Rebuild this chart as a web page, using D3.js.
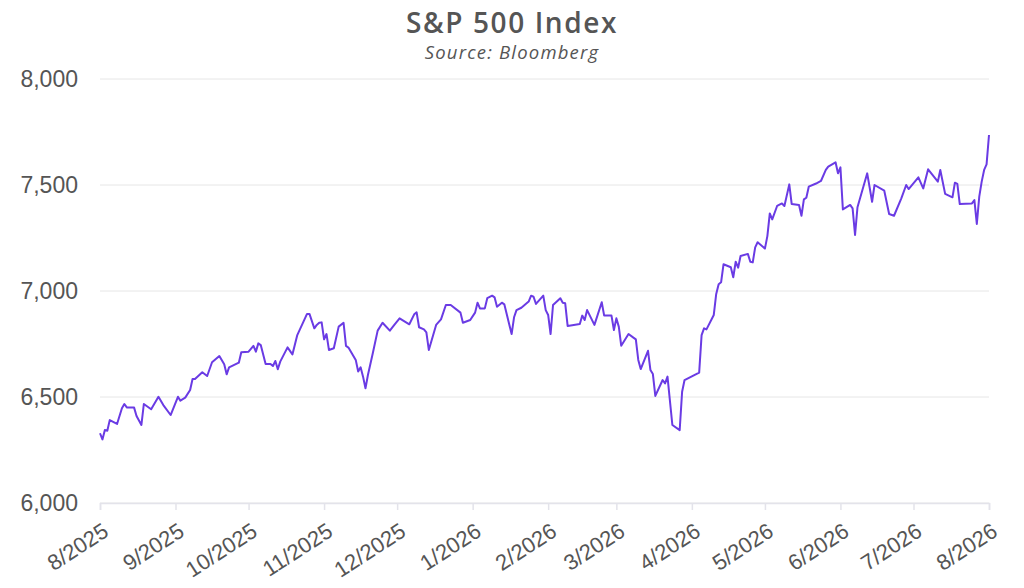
<!DOCTYPE html>
<html>
<head>
<meta charset="utf-8">
<script src="https://cdn.jsdelivr.net/npm/d3@7"></script>
<style>
    body { margin: 0; background: #fff; }
    svg { font-family: "Open Sans", "Noto Sans", sans-serif; }
</style>
</head>
<body>
<script>
var dates = [
    "2025-08-01", "2025-08-02", "2025-08-03", "2025-08-04", "2025-08-05", "2025-08-08", "2025-08-10", "2025-08-11",
    "2025-08-12", "2025-08-15", "2025-08-16", "2025-08-18", "2025-08-19", "2025-08-22", "2025-08-25", "2025-08-27",
    "2025-08-30", "2025-09-02", "2025-09-03", "2025-09-05", "2025-09-07", "2025-09-08", "2025-09-09", "2025-09-12",
    "2025-09-14", "2025-09-16", "2025-09-19", "2025-09-21", "2025-09-22", "2025-09-23", "2025-09-27", "2025-09-28",
    "2025-10-01", "2025-10-03", "2025-10-04", "2025-10-05", "2025-10-06", "2025-10-08", "2025-10-10", "2025-10-11",
    "2025-10-12", "2025-10-13", "2025-10-14", "2025-10-17", "2025-10-19", "2025-10-21", "2025-10-25", "2025-10-26",
    "2025-10-28", "2025-10-29", "2025-10-30", "2025-10-31", "2025-11-01", "2025-11-02", "2025-11-03", "2025-11-05",
    "2025-11-07", "2025-11-09", "2025-11-10", "2025-11-11", "2025-11-14", "2025-11-15", "2025-11-16", "2025-11-17",
    "2025-11-18", "2025-11-19", "2025-11-21", "2025-11-23", "2025-11-25", "2025-11-28", "2025-11-30", "2025-12-02",
    "2025-12-06", "2025-12-08", "2025-12-09", "2025-12-10", "2025-12-12", "2025-12-13", "2025-12-14", "2025-12-17",
    "2025-12-19", "2025-12-21", "2025-12-23", "2025-12-27", "2025-12-28", "2025-12-31", "2026-01-02", "2026-01-03",
    "2026-01-04", "2026-01-06", "2026-01-07", "2026-01-09", "2026-01-10", "2026-01-11", "2026-01-13", "2026-01-14",
    "2026-01-17", "2026-01-18", "2026-01-19", "2026-01-21", "2026-01-24", "2026-01-25", "2026-01-26", "2026-01-27",
    "2026-01-30", "2026-01-31", "2026-02-01", "2026-02-02", "2026-02-03", "2026-02-06", "2026-02-07", "2026-02-08",
    "2026-02-09", "2026-02-14", "2026-02-15", "2026-02-16", "2026-02-17", "2026-02-20", "2026-02-23", "2026-02-24",
    "2026-02-27", "2026-02-28", "2026-03-01", "2026-03-02", "2026-03-03", "2026-03-06", "2026-03-08", "2026-03-09",
    "2026-03-10", "2026-03-11", "2026-03-14", "2026-03-15", "2026-03-16", "2026-03-17", "2026-03-20", "2026-03-21",
    "2026-03-22", "2026-03-24", "2026-03-27", "2026-03-28", "2026-03-29", "2026-04-04", "2026-04-05", "2026-04-06",
    "2026-04-07", "2026-04-10", "2026-04-11", "2026-04-12", "2026-04-13", "2026-04-14", "2026-04-17", "2026-04-18",
    "2026-04-19", "2026-04-20", "2026-04-21", "2026-04-24", "2026-04-25", "2026-04-26", "2026-04-27", "2026-04-28",
    "2026-05-01", "2026-05-02", "2026-05-03", "2026-05-04", "2026-05-06", "2026-05-08", "2026-05-09", "2026-05-11",
    "2026-05-12", "2026-05-15", "2026-05-16", "2026-05-17", "2026-05-18", "2026-05-19", "2026-05-22", "2026-05-24",
    "2026-05-26", "2026-05-27", "2026-05-30", "2026-05-31", "2026-06-01", "2026-06-02", "2026-06-05", "2026-06-06",
    "2026-06-07", "2026-06-08", "2026-06-12", "2026-06-14", "2026-06-15", "2026-06-19", "2026-06-21", "2026-06-23",
    "2026-06-26", "2026-06-28", "2026-06-29", "2026-07-03", "2026-07-05", "2026-07-07", "2026-07-11", "2026-07-12",
    "2026-07-14", "2026-07-17", "2026-07-18", "2026-07-19", "2026-07-20", "2026-07-25", "2026-07-26", "2026-07-27",
    "2026-07-28", "2026-07-29", "2026-07-30", "2026-07-31", "2026-08-01"
]

var closes = [
    6329, 6300, 6344, 6341, 6391, 6373, 6447, 6467,
    6451, 6450, 6410, 6368, 6467, 6442, 6501, 6462,
    6415, 6501, 6483, 6497, 6533, 6585, 6585, 6617,
    6599, 6664, 6693, 6654, 6607, 6640, 6662, 6711,
    6714, 6741, 6714, 6753, 6745, 6656, 6656, 6646,
    6670, 6631, 6667, 6734, 6701, 6792, 6892, 6892,
    6824, 6840, 6850, 6852, 6772, 6797, 6722, 6730,
    6832, 6850, 6741, 6733, 6675, 6620, 6640, 6596,
    6541, 6604, 6706, 6813, 6850, 6813, 6843, 6871,
    6843, 6890, 6899, 6829, 6819, 6805, 6722, 6840,
    6866, 6934, 6934, 6898, 6850, 6863, 6898, 6945,
    6918, 6918, 6966, 6978, 6970, 6926, 6945, 6937,
    6797, 6876, 6910, 6921, 6950, 6978, 6973, 6939,
    6978, 6910, 6887, 6797, 6934, 6966, 6945, 6942,
    6835, 6844, 6884, 6863, 6910, 6840, 6947, 6884,
    6884, 6816, 6871, 6832, 6742, 6797, 6780, 6772,
    6675, 6632, 6718, 6627, 6608, 6505, 6580, 6564,
    6596, 6368, 6344, 6525, 6580, 6615, 6792, 6824,
    6819, 6887, 6986, 7032, 7041, 7126, 7112, 7065,
    7138, 7110, 7165, 7175, 7138, 7135, 7206, 7230,
    7200, 7259, 7366, 7338, 7401, 7413, 7401, 7503,
    7410, 7406, 7355, 7432, 7440, 7492, 7507, 7519,
    7571, 7587, 7607, 7555, 7583, 7385, 7406, 7390,
    7264, 7395, 7555, 7421, 7500, 7473, 7363, 7355,
    7437, 7500, 7481, 7536, 7484, 7574, 7516, 7571,
    7458, 7442, 7511, 7505, 7410, 7413, 7429, 7316,
    7445, 7516, 7571, 7597, 7736
]

var yTicks = [6000, 6500, 7000, 7500, 8000]
var xStart = "2025-08-01"
var xEnd = "2026-08-01"

var title = "S&P 500 Index"
var subtitle = "Source: Bloomberg"

var width = 1024
var height = 588
var margin = {top: 79, right: 35, bottom: 85, left: 100}

var parse = d3.timeParse("%Y-%m-%d")
var data = dates.map(function (d, i) {
    return {date: parse(d), value: closes[i]}
})

var svg = d3.select("body").append("svg")
    .attr("width", width)
    .attr("height", height)

var xScale = d3.scaleTime()
    .domain([parse(xStart), parse(xEnd)])
    .range([margin.left, width - margin.right])

var yScale = d3.scaleLinear()
    .domain([6000, 8000])
    .range([height - margin.bottom, margin.top])

// grid
svg.append("g")
    .selectAll("line")
    .data(yTicks)
    .enter()
    .append("line")
    .attr("x1", margin.left)
    .attr("x2", width - margin.right)
    .attr("y1", function (d) { return yScale(d) })
    .attr("y2", function (d) { return yScale(d) })
    .attr("stroke", "#e6e6e6")
    .attr("stroke-width", 1)

var yAxis = d3.axisLeft(yScale)
    .tickValues(yTicks)
    .tickSize(0)
    .tickPadding(22)
    .tickFormat(d3.format(","))

svg.append("g")
    .attr("transform", "translate(" + margin.left + ",0)")
    .call(yAxis)
    .call(function (g) { g.select(".domain").remove() })
    .selectAll("text")
    .attr("font-size", 23)
    .attr("fill", "#555")

var xAxis = d3.axisBottom(xScale)
    .ticks(d3.timeMonth.every(1))
    .tickSize(7)
    .tickFormat(d3.timeFormat("%-m/%Y"))

var gx = svg.append("g")
    .attr("transform", "translate(0," + (height - margin.bottom) + ")")
    .call(xAxis)

gx.select(".domain").attr("stroke", "#e3e3ea").attr("stroke-width", 1.5)
gx.selectAll(".tick line").attr("stroke", "#e3e3ea").attr("stroke-width", 1.5)
gx.selectAll("text")
    .attr("font-size", 22)
    .attr("fill", "#555")
    .attr("text-anchor", "end")
    .attr("dy", "0.35em")
    .attr("transform", "translate(0,17) rotate(-33)")

var line = d3.line()
    .x(function (d) { return xScale(d.date) })
    .y(function (d) { return yScale(d.value) })

svg.append("path")
    .datum(data)
    .attr("fill", "none")
    .attr("stroke", "#6a3be4")
    .attr("stroke-width", 2)
    .attr("stroke-linejoin", "round")
    .attr("d", line)

svg.append("text")
    .attr("x", width / 2)
    .attr("y", 33)
    .attr("text-anchor", "middle")
    .attr("font-size", 28)
    .attr("font-weight", 600)
    .attr("letter-spacing", 1.6)
    .attr("fill", "#555")
    .text(title)

svg.append("text")
    .attr("x", width / 2)
    .attr("y", 59)
    .attr("text-anchor", "middle")
    .attr("font-size", 18.5)
    .attr("font-style", "italic")
    .attr("letter-spacing", 1.2)
    .attr("fill", "#555")
    .text(subtitle)
</script>
</body>
</html>
